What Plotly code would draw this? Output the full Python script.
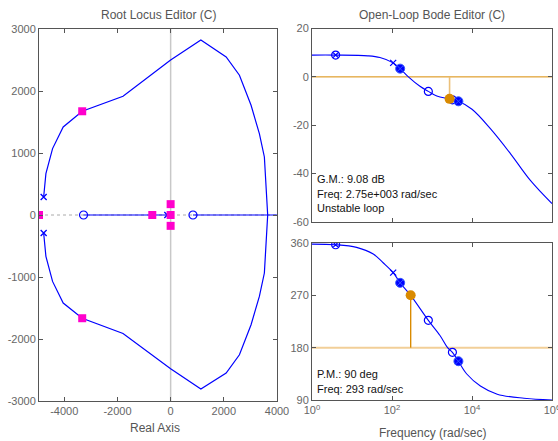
import plotly.graph_objects as go

# ---------------- Root locus data ----------------
rl_upper_x = [-4775, -4690, -4440, -4040, -3325, -1790, 0, 1137, 2088, 2587, 3025, 3337, 3525, 3650]
rl_upper_y = [290, 667, 1071, 1420, 1673, 1916, 2500, 2823, 2550, 2255, 1770, 1313, 936, 0]
rl_lower_x = [-4775, -4690, -4440, -4040, -3325, -1790, 0, 1137, 2088, 2587, 3025, 3337, 3525, 3650]
rl_lower_y = [-290, -667, -1071, -1420, -1665, -1910, -2480, -2806, -2550, -2255, -1770, -1313, -936, 0]
rl_real1_x = [-3275, 0]
rl_real2_x = [840, 4000]
rl_real_y = [0, 0]
ol_pole_x = [-4775, -4775, -125]
ol_pole_y = [290, -290, 0]
ol_zero_x = [-3275, 840]
ol_zero_y = [0, 0]
cl_pole_x = [-4950, -3325, -3325, -690, 0, 0, 0]
cl_pole_y = [0, 1673, -1665, 0, 0, 175, -175]
rl_xticks = [-4000, -2000, 0, 2000, 4000]
rl_xticktext = ["-4000", "-2000", "0", "2000", "4000"]
rl_yticks = [-3000, -2000, -1000, 0, 1000, 2000, 3000]
rl_yticktext = ["-3000", "-2000", "-1000", "0", "1000", "2000", "3000"]

# ---------------- Bode data ----------------
mag_w = [1, 3.9, 25, 50, 107, 158, 257, 500, 810, 1320, 2750, 4570, 10000, 28800, 91200, 288000, 1e6]
mag_db = [9.0, 9.0, 8.7, 8.0, 5.8, 3.5, 0.0, -3.9, -6.0, -7.9, -9.1, -10.1, -13.4, -21.4, -31.7, -42.8, -52.4]
ph_w = [1, 3.9, 13, 34, 60, 107, 160, 293, 810, 1585, 2450, 3240, 4570, 7400, 16200, 42700, 200000, 1e6]
ph_deg = [358, 357, 352.5, 341, 326, 309, 291.5, 270, 227, 201, 180, 172, 156.7, 134.7, 114, 100, 93, 90]

cx_w = [3.9]; cx_mag = [9.0]; cx_ph = [357]
x_w = [107]; x_mag = [5.8]; x_ph = [309]
fill_w = [160, 4570]; fill_mag = [3.4, -10.1]; fill_ph = [291.5, 156.7]
open_w = [810, 3240]; open_mag = [-6.0, -9.5]; open_ph = [227, 172]
gm_w = 2750; gm_db = -9.08
pm_w = 293; pm_deg = 270

freq_ticks = [1, 100, 10000, 1000000]
freq_ticktext = ["10<sup>0</sup>", "10<sup>2</sup>", "10<sup>4</sup>", "10<sup>6</sup>"]
mag_ticks = [-60, -40, -20, 0, 20]
mag_ticktext = ["-60", "-40", "-20", "0", "20"]
ph_ticks = [90, 180, 270, 360]

BLUE = "#0000ff"
PINK = "#ff00cc"
ORANGE = "#d98a00"
ORANGE_L = "#ebc07a"
GRAY = "#666666"
FONT = "Liberation Sans, Arial, sans-serif"

fig = go.Figure()

# Root locus (xaxis / yaxis)
for xs, ys in [(rl_upper_x, rl_upper_y), (rl_lower_x, rl_lower_y),
               (rl_real1_x, rl_real_y), (rl_real2_x, rl_real_y)]:
    fig.add_trace(go.Scatter(x=xs, y=ys, mode="lines", line=dict(color=BLUE, width=1.2),
                             xaxis="x", yaxis="y", hoverinfo="skip"))
fig.add_trace(go.Scatter(x=ol_pole_x, y=ol_pole_y, mode="markers", xaxis="x", yaxis="y",
                         marker=dict(symbol="x-thin-open", size=6, color=BLUE, line=dict(color=BLUE, width=1.3))))
fig.add_trace(go.Scatter(x=ol_zero_x, y=ol_zero_y, mode="markers", xaxis="x", yaxis="y",
                         marker=dict(symbol="circle-open", size=8, color=BLUE, line=dict(color=BLUE, width=1.2))))
fig.add_trace(go.Scatter(x=cl_pole_x, y=cl_pole_y, mode="markers", xaxis="x", yaxis="y",
                         marker=dict(symbol="square", size=8, color=PINK)))

# Magnitude (x2 / y2)
fig.add_trace(go.Scatter(x=mag_w, y=mag_db, mode="lines", line=dict(color=BLUE, width=1.1),
                         xaxis="x2", yaxis="y2", line_shape="spline"))
fig.add_trace(go.Scatter(x=[gm_w, gm_w], y=[0, gm_db], mode="lines", line=dict(color=ORANGE_L, width=1.6),
                         xaxis="x2", yaxis="y2"))
# Phase (x3 / y3)
fig.add_trace(go.Scatter(x=ph_w, y=ph_deg, mode="lines", line=dict(color=BLUE, width=1.1),
                         xaxis="x3", yaxis="y3", line_shape="spline"))
fig.add_trace(go.Scatter(x=[pm_w, pm_w], y=[180, pm_deg], mode="lines", line=dict(color=ORANGE, width=1.4),
                         xaxis="x3", yaxis="y3"))

for ax, vals in [("2", (cx_mag, x_mag, fill_mag, open_mag)), ("3", (cx_ph, x_ph, fill_ph, open_ph))]:
    cxv, xv, fv, ov = vals
    fig.add_trace(go.Scatter(x=cx_w, y=cxv, mode="markers", xaxis="x" + ax, yaxis="y" + ax,
                             marker=dict(symbol="circle-x-open", size=8, color=BLUE, line=dict(color=BLUE, width=1.2))))
    fig.add_trace(go.Scatter(x=x_w, y=xv, mode="markers", xaxis="x" + ax, yaxis="y" + ax,
                             marker=dict(symbol="x-thin-open", size=6, color=BLUE, line=dict(color=BLUE, width=1.3))))
    fig.add_trace(go.Scatter(x=open_w, y=ov, mode="markers", xaxis="x" + ax, yaxis="y" + ax,
                             marker=dict(symbol="circle-open", size=8, color=BLUE, line=dict(color=BLUE, width=1.2))))
    fig.add_trace(go.Scatter(x=fill_w, y=fv, mode="markers", xaxis="x" + ax, yaxis="y" + ax,
                             marker=dict(symbol="circle-x", size=9, color=BLUE, line=dict(color="#3355ff", width=1))))

fig.add_trace(go.Scatter(x=[gm_w], y=[gm_db], mode="markers", xaxis="x2", yaxis="y2",
                         marker=dict(symbol="circle", size=10, color=ORANGE)))
fig.add_trace(go.Scatter(x=[pm_w], y=[pm_deg], mode="markers", xaxis="x3", yaxis="y3",
                         marker=dict(symbol="circle", size=10, color=ORANGE)))

# Reference lines
fig.add_shape(type="line", xref="x domain", yref="y", x0=0, x1=1, y0=0, y1=0,
              line=dict(color="#aaaaaa", width=1, dash="dot"), layer="below")
fig.add_shape(type="line", xref="x", yref="y domain", x0=0, x1=0, y0=0, y1=1,
              line=dict(color="#c8c8c8", width=1.5), layer="below")
fig.add_shape(type="line", xref="x2 domain", yref="y2", x0=0, x1=1, y0=0, y1=0,
              line=dict(color=ORANGE, width=1), layer="below")
fig.add_shape(type="line", xref="x3 domain", yref="y3", x0=0, x1=1, y0=180, y1=180,
              line=dict(color="#f2cf98", width=2), layer="below")

W, H = 558, 441
def px(x):
    return x / W
def py(y):
    return 1 - y / H

axis_common = dict(showline=True, linecolor="#555555", linewidth=1, mirror="ticks", ticks="inside",
                   ticklen=4, tickcolor="#555555", showgrid=False, zeroline=False, automargin=False,
                   tickfont=dict(family=FONT, size=11, color=GRAY))

fig.update_layout(
    width=W, height=H, margin=dict(l=0, r=0, t=0, b=0),
    paper_bgcolor="white", plot_bgcolor="white", showlegend=False,
    font=dict(family=FONT),
    xaxis=dict(axis_common, domain=[px(39), px(277)], range=[-4950, 4000], anchor="y",
               tickmode="array", tickvals=rl_xticks, ticktext=rl_xticktext),
    yaxis=dict(axis_common, domain=[py(401), py(29)], range=[-3000, 3000], anchor="x",
               tickmode="array", tickvals=rl_yticks, ticktext=rl_yticktext),
    xaxis2=dict(axis_common, domain=[px(312), px(552)], type="log", range=[0, 6], anchor="y2",
                tickmode="array", tickvals=freq_ticks, showticklabels=False),
    yaxis2=dict(axis_common, domain=[py(222), py(28.5)], range=[-60, 20], anchor="x2",
                tickmode="array", tickvals=mag_ticks, ticktext=mag_ticktext),
    xaxis3=dict(axis_common, domain=[px(312), px(552)], type="log", range=[0, 6], anchor="y3",
                tickmode="array", tickvals=freq_ticks, ticktext=freq_ticktext,
                ticklabeloverflow="allow"),
    yaxis3=dict(axis_common, domain=[py(400), py(243)], range=[90, 360], anchor="x3",
                tickmode="array", tickvals=ph_ticks),
)

title_font = dict(family=FONT, size=12, color="#555555")
text_font = dict(family=FONT, size=11, color="#111111")
annots = [
    ("Root Locus Editor (C)", 158, 15, "center", title_font),
    ("Open-Loop Bode Editor (C)", 432, 15, "center", title_font),
    ("Real Axis", 155, 428, "center", title_font),
    ("Frequency (rad/sec)", 432, 433, "center", title_font),
    ("G.M.: 9.08 dB", 315, 179, "left", text_font),
    ("Freq: 2.75e+003 rad/sec", 315, 194, "left", text_font),
    ("Unstable loop", 315, 208, "left", text_font),
    ("P.M.: 90 deg", 315, 374, "left", text_font),
    ("Freq: 293 rad/sec", 315, 389, "left", text_font),
]
for txt, x, y, anchor, f in annots:
    fig.add_annotation(text=txt, x=px(x), y=py(y), xref="paper", yref="paper",
                       xanchor=anchor, yanchor="middle", showarrow=False, font=f)

fig.write_html("out.html", config={"displayModeBar": False},
               post_script="document.body.style.margin='0';document.body.style.overflow='hidden';")
